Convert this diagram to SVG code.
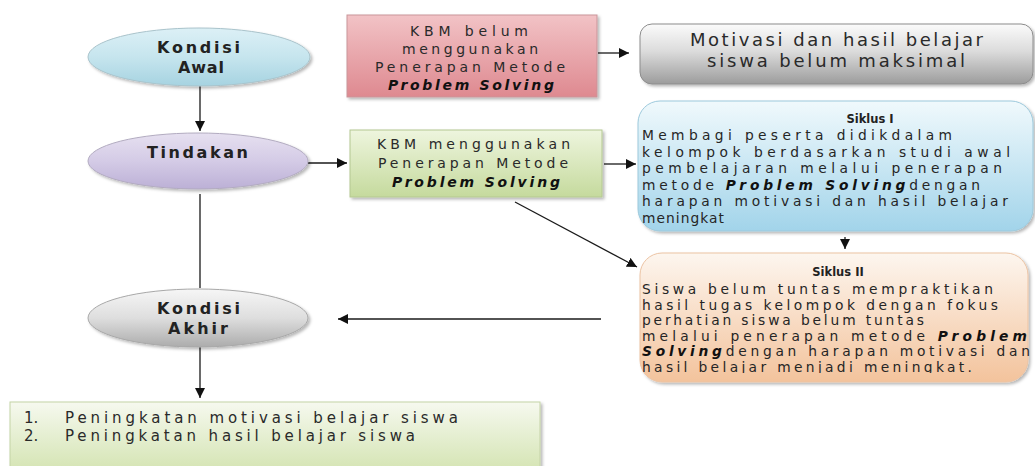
<svg xmlns="http://www.w3.org/2000/svg" width="1035" height="466" viewBox="0 0 1035 466">
<style>
text{font-family:"DejaVu Sans","Verdana",sans-serif;fill:#1e1e1e}
.el{font-weight:bold;font-size:16px;fill:#222}
.bx{font-size:14px;fill:#2a2a2a}
.mt{font-size:18px;fill:#2a2a2a}
.sk{font-size:13.8px;fill:#262626}
.ttl{font-size:11.5px;font-weight:bold;fill:#222}
.bi{font-weight:bold;font-style:italic;fill:#111}
.bt{font-size:15px;fill:#2a2a2a}
.ln{stroke:#1a1a1a;stroke-width:1.3;fill:none}
.ar{marker-end:url(#ah)}
</style>
<defs>
<marker id="ah" viewBox="0 0 10 10" refX="10" refY="5" markerWidth="10" markerHeight="10" markerUnits="userSpaceOnUse" orient="auto"><path d="M0,0 L10,5 L0,10 z" fill="#111"/></marker>
<filter id="sh" x="-5%" y="-10%" width="112%" height="130%"><feDropShadow dx="2" dy="2" stdDeviation="1.5" flood-color="#000" flood-opacity="0.28"/></filter>
<linearGradient id="gBlueE" x1="0" y1="0" x2="0" y2="1"><stop offset="0" stop-color="#dcf0f6"/><stop offset="0.5" stop-color="#c6e5ee"/><stop offset="1" stop-color="#a6d3e1"/></linearGradient>
<linearGradient id="gLav" x1="0" y1="0" x2="0" y2="1"><stop offset="0" stop-color="#e6e0f0"/><stop offset="0.5" stop-color="#d4cbe6"/><stop offset="1" stop-color="#bcb0d6"/></linearGradient>
<linearGradient id="gGrey" x1="0" y1="0" x2="0" y2="1"><stop offset="0" stop-color="#f6f6f6"/><stop offset="0.5" stop-color="#dedede"/><stop offset="1" stop-color="#acacac"/></linearGradient>
<linearGradient id="gPink" x1="0" y1="0" x2="0" y2="1"><stop offset="0" stop-color="#f2c3c6"/><stop offset="1" stop-color="#de8990"/></linearGradient>
<linearGradient id="gMot" x1="0" y1="0" x2="0" y2="1"><stop offset="0" stop-color="#fbfbfb"/><stop offset="0.45" stop-color="#dcdcdc"/><stop offset="1" stop-color="#9c9c9c"/></linearGradient>
<linearGradient id="gGreen" x1="0" y1="0" x2="0" y2="1"><stop offset="0" stop-color="#eef5de"/><stop offset="1" stop-color="#c5da9d"/></linearGradient>
<linearGradient id="gSky" x1="0" y1="0" x2="0" y2="1"><stop offset="0" stop-color="#f0f9fc"/><stop offset="1" stop-color="#a2d4ea"/></linearGradient>
<linearGradient id="gPeach" x1="0" y1="0" x2="0" y2="1"><stop offset="0" stop-color="#fdf6ef"/><stop offset="1" stop-color="#f3c39c"/></linearGradient>
<linearGradient id="gLime" x1="0" y1="0" x2="0" y2="1"><stop offset="0" stop-color="#f6f9ef"/><stop offset="1" stop-color="#d4e4b2"/></linearGradient>
<clipPath id="cutLast"><rect x="600" y="340" width="435" height="33"/></clipPath>
</defs>

<g id="connectors">
<line class="ln ar" x1="200" y1="86" x2="200" y2="131"/>
<line class="ln ar" x1="308" y1="163" x2="347" y2="163"/>
<line class="ln" x1="200" y1="194" x2="200" y2="288"/>
<line class="ln ar" x1="200" y1="347" x2="200" y2="398"/>
<line class="ln ar" x1="598" y1="53" x2="629" y2="53"/>
<line class="ln ar" x1="604" y1="164" x2="636" y2="164"/>
<line class="ln ar" x1="515" y1="202" x2="637" y2="267"/>
<line class="ln ar" x1="845" y1="237" x2="845" y2="249"/>
<line class="ln ar" x1="601" y1="319" x2="338" y2="319"/>
</g>

<g id="kondisi-awal">
<ellipse cx="199" cy="57" rx="111" ry="29" fill="url(#gBlueE)" stroke="#a9c3cb" stroke-width="1" filter="url(#sh)"/>
<text class="el" x="157" y="53" textLength="83" lengthAdjust="spacing">Kondisi</text>
<text class="el" x="178" y="73" textLength="46" lengthAdjust="spacing">Awal</text>
</g>

<g id="tindakan">
<ellipse cx="198" cy="161" rx="110" ry="28" fill="url(#gLav)" stroke="#b2abc0" stroke-width="1" filter="url(#sh)"/>
<text class="el" x="147" y="158" textLength="101" lengthAdjust="spacing">Tindakan</text>
</g>

<g id="kondisi-akhir">
<ellipse cx="198" cy="318" rx="110" ry="29" fill="url(#gGrey)" stroke="#a8a8a8" stroke-width="1" filter="url(#sh)"/>
<text class="el" x="157" y="314" textLength="83" lengthAdjust="spacing">Kondisi</text>
<text class="el" x="168" y="334" textLength="60" lengthAdjust="spacing">Akhir</text>
</g>

<g id="kbm-belum">
<rect x="347" y="15" width="250" height="82" fill="url(#gPink)" stroke="#c9959a" stroke-width="1" filter="url(#sh)"/>
<text class="bx" x="410" y="36" textLength="118" lengthAdjust="spacing">KBM belum</text>
<text class="bx" x="402" y="54" textLength="136" lengthAdjust="spacing">menggunakan</text>
<text class="bx" x="375" y="72" textLength="190" lengthAdjust="spacing">Penerapan Metode</text>
<text class="bx bi" x="388" y="90" textLength="166" lengthAdjust="spacing">Problem  Solving</text>
</g>

<g id="motivasi">
<rect x="640" y="24" width="393" height="60" rx="12" fill="url(#gMot)" stroke="#8c8c8c" stroke-width="1" filter="url(#sh)"/>
<text class="mt" x="690" y="46" textLength="293" lengthAdjust="spacing">Motivasi dan hasil belajar</text>
<text class="mt" x="707" y="67" textLength="258" lengthAdjust="spacing">siswa belum maksimal</text>
</g>

<g id="kbm-menggunakan">
<rect x="350" y="130" width="252" height="67" fill="url(#gGreen)" stroke="#b4c892" stroke-width="1" filter="url(#sh)"/>
<text class="bx" x="377" y="149" textLength="193" lengthAdjust="spacing">KBM menggunakan</text>
<text class="bx" x="378" y="168" textLength="190" lengthAdjust="spacing">Penerapan Metode</text>
<text class="bx bi" x="392" y="187" textLength="168" lengthAdjust="spacing">Problem  Solving</text>
</g>

<g id="siklus-1">
<rect x="638" y="101" width="395" height="130" rx="22" fill="url(#gSky)" stroke="#9cc9dc" stroke-width="1" filter="url(#sh)"/>
<text class="ttl" x="870" y="123" text-anchor="middle">Siklus  I</text>
<text class="sk" x="642" y="140" textLength="310" lengthAdjust="spacing">Membagi peserta didikdalam</text>
<text class="sk" x="642" y="156.5" textLength="368" lengthAdjust="spacing">kelompok berdasarkan studi awal</text>
<text class="sk" x="642" y="173" textLength="360" lengthAdjust="spacing">pembelajaran melalui penerapan</text>
<text class="sk" x="642" y="189.5" textLength="338" lengthAdjust="spacing">metode <tspan class="bi">Problem  Solving</tspan>dengan</text>
<text class="sk" x="642" y="206" textLength="366" lengthAdjust="spacing">harapan motivasi dan hasil belajar</text>
<text class="sk" x="642" y="222.5" textLength="82" lengthAdjust="spacing">meningkat</text>
</g>

<g id="siklus-2">
<rect x="640" y="253" width="388" height="129" rx="22" fill="url(#gPeach)" stroke="#ecc3a3" stroke-width="1" filter="url(#sh)"/>
<text class="ttl" x="838" y="276" text-anchor="middle">Siklus  II</text>
<text class="sk" x="642" y="294" textLength="351" lengthAdjust="spacing">Siswa belum tuntas mempraktikan</text>
<text class="sk" x="642" y="309.6" textLength="356" lengthAdjust="spacing">hasil tugas kelompok dengan fokus</text>
<text class="sk" x="642" y="325.2" textLength="282" lengthAdjust="spacing">perhatian siswa belum tuntas</text>
<text class="sk" x="642" y="340.8" textLength="385" lengthAdjust="spacing">melalui penerapan metode  <tspan class="bi">Problem</tspan></text>
<text class="sk" x="642" y="356.4" textLength="388" lengthAdjust="spacing"><tspan class="bi">Solving</tspan>dengan  harapan motivasi dan</text>
<text class="sk" x="642" y="372" textLength="330" lengthAdjust="spacing" clip-path="url(#cutLast)">hasil belajar menjadi meningkat.</text>
</g>

<g id="hasil-akhir">
<rect x="10" y="402" width="530" height="70" fill="url(#gLime)" stroke="#c4d3a6" stroke-width="1" filter="url(#sh)"/>
<text class="bt" x="24" y="423">1.</text>
<text class="bt" x="65" y="423" textLength="393" lengthAdjust="spacing">Peningkatan motivasi belajar siswa</text>
<text class="bt" x="24" y="441">2.</text>
<text class="bt" x="65" y="441" textLength="350" lengthAdjust="spacing">Peningkatan hasil belajar siswa</text>
</g>
</svg>
